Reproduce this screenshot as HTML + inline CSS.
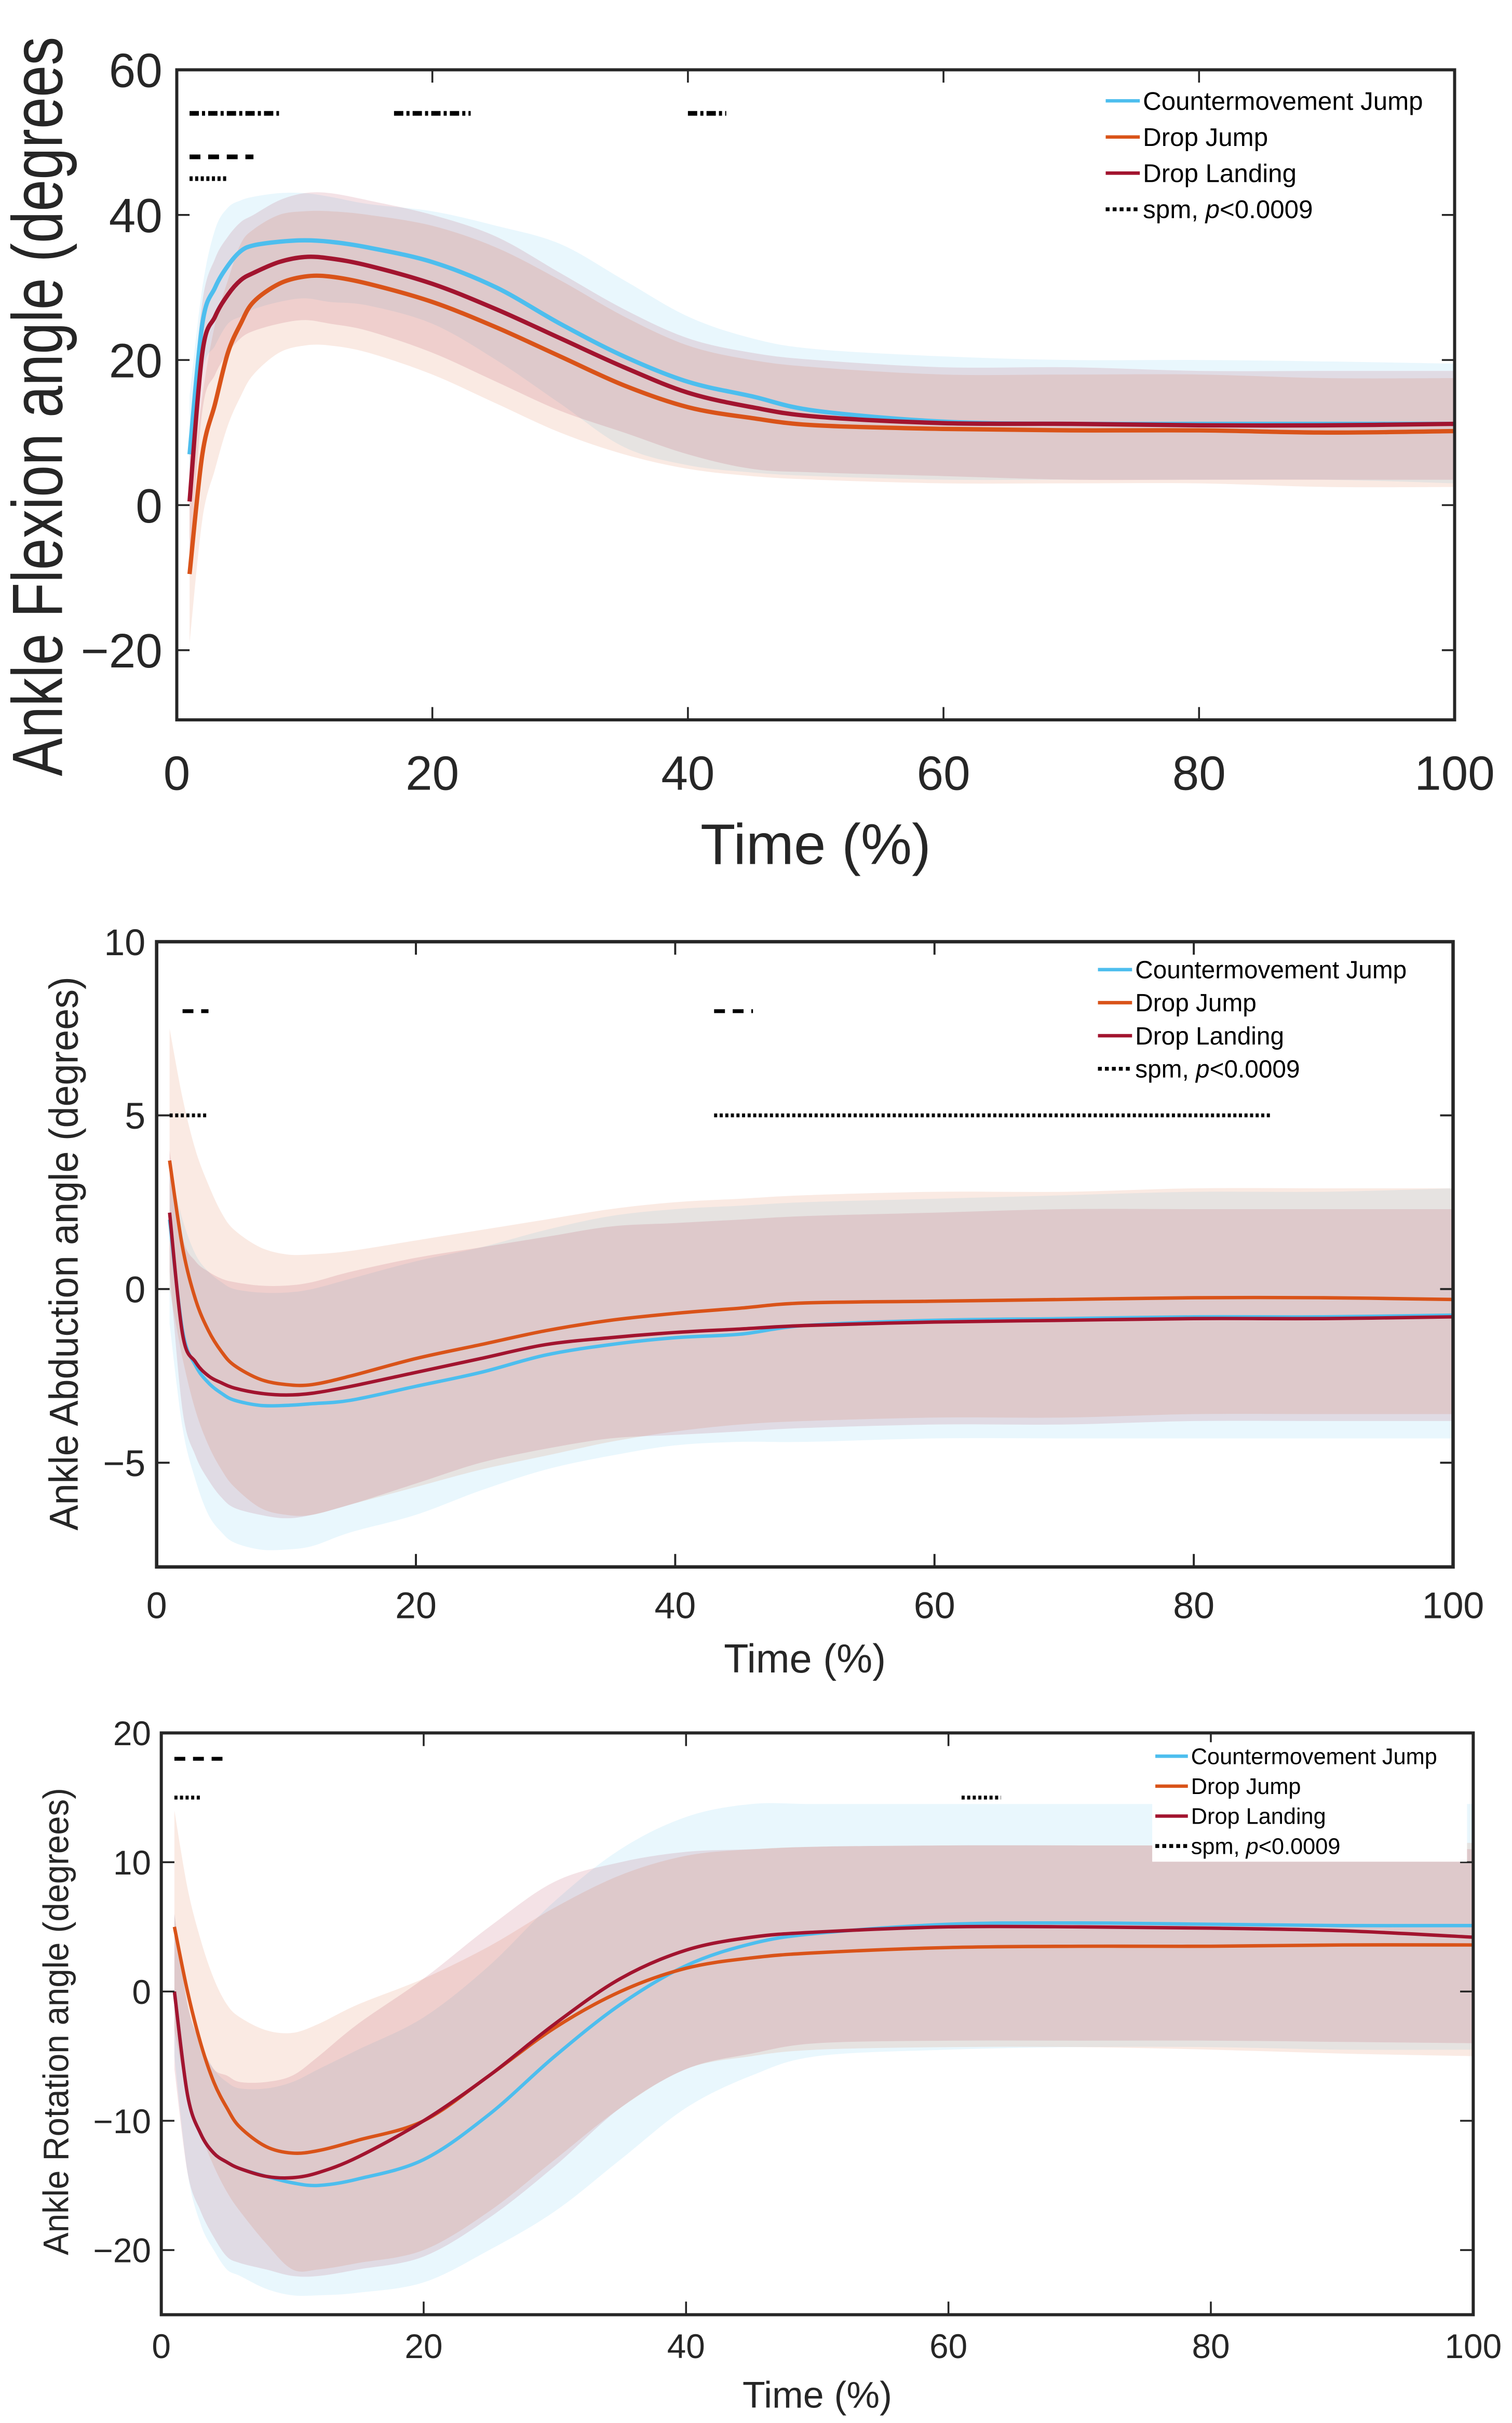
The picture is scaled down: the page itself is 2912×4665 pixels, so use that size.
<!DOCTYPE html>
<html><head><meta charset="utf-8"><style>
html,body{margin:0;padding:0;background:#fff;}
svg{display:block;font-family:"Liberation Sans",Arial,sans-serif;}
</style></head><body>
<svg id="fig" width="2912" height="4665" viewBox="0 0 975 1561.8" preserveAspectRatio="none" xmlns="http://www.w3.org/2000/svg"></svg>
<script>
const xs=[1,2,3,4,5,6,8,10,12,15,20,25,30,35,40,45,50,60,70,80,90,100];
// Panel 1: flexion
const p1CMJ=[7,25,30,33,35,35.8,36.3,36.5,36.3,35.5,33.5,30,25,20.5,17,15,13,11.5,11.2,11.2,11.2,11.2];
const p1DJ=[-9.5,7,14,21,25,28,30.5,31.5,31.5,30.5,28,24.5,20.5,16.5,13.5,12,11,10.5,10.3,10.3,10,10.2];
const p1DL=[0.5,21,26,29,31,32,33.5,34.2,34,33,30.5,27,23,19,15.5,13.5,12.2,11.3,11.2,11,11,11.2];
const p1CMJu=[15,30,38,41,42,42.5,43,43,42.5,41.5,40.5,38.5,36,31,26,23,21.5,20.5,20,20,19.8,19.5];
const p1CMJl=[0,18,22,25,26,27,28,28.5,28,27.5,25,20,14,8,5.5,4.5,4,3.5,3.5,3.5,3.5,3];
const p1DJu=[0,15,25,31,36,38,40,40.5,40.5,40,38.5,35.5,31,26,22,20,19,18,18,18,17.5,17.5];
const p1DJl=[-19,-2,5,11,15,18,21,22,22,21,18,14,10,7,5,4,3.5,3,3,3,2.5,2.5];
const p1DLu=[10,28,34,37,39,40,42,43,43,42,40,37,32,27,23,21,20,19,19,18.5,18.5,18.5];
const p1DLl=[-8,13,18,21,23,24,25,25.5,25,24,21,17,13,10,7,5,4.5,4,3.5,3.5,3.5,3.5];
const p1Ticks=[60,40,20,0,-20];
// Panel 2: abduction
const p2CMJ=[2,-1.2,-2.2,-2.7,-3.0,-3.2,-3.35,-3.35,-3.3,-3.2,-2.8,-2.4,-1.9,-1.6,-1.4,-1.3,-1.05,-0.9,-0.85,-0.8,-0.8,-0.75];
const p2DJ=[3.7,1.2,-0.3,-1.2,-1.8,-2.2,-2.6,-2.75,-2.75,-2.5,-2.0,-1.6,-1.2,-0.9,-0.7,-0.55,-0.4,-0.35,-0.3,-0.25,-0.25,-0.3];
const p2DL=[2.2,-1.3,-2.1,-2.5,-2.7,-2.85,-3.0,-3.05,-3.0,-2.8,-2.4,-2.0,-1.6,-1.4,-1.25,-1.15,-1.05,-0.95,-0.9,-0.85,-0.85,-0.8];
const p2CMJu=[3.5,2,1,0.5,0.2,0,-0.1,-0.1,0,0.3,0.8,1.2,1.7,2.1,2.3,2.4,2.5,2.6,2.7,2.8,2.8,2.9];
const p2CMJl=[-1,-4,-5.5,-6.5,-7,-7.3,-7.5,-7.5,-7.4,-7,-6.5,-5.8,-5.2,-4.8,-4.5,-4.4,-4.4,-4.3,-4.3,-4.3,-4.3,-4.3];
const p2DJu=[7.5,5.5,4,3,2.2,1.7,1.2,1,1,1.1,1.4,1.7,2,2.3,2.5,2.6,2.7,2.8,2.8,2.9,2.9,2.9];
const p2DJl=[0,-2,-3.5,-4.5,-5.2,-5.7,-6.3,-6.5,-6.5,-6.2,-5.7,-5.2,-4.8,-4.4,-4.1,-3.9,-3.8,-3.7,-3.7,-3.6,-3.6,-3.6];
const p2DLu=[4,1.5,0.8,0.5,0.3,0.2,0.1,0.1,0.2,0.5,0.9,1.2,1.5,1.8,1.9,2.0,2.1,2.2,2.3,2.3,2.3,2.3];
const p2DLl=[0.5,-3.5,-4.8,-5.5,-6,-6.3,-6.5,-6.6,-6.5,-6.2,-5.6,-5,-4.6,-4.3,-4.2,-4.1,-4,-3.9,-3.9,-3.8,-3.8,-3.8];
const p2Ticks=[10,5,0,-5];
// Panel 3: rotation
const p3CMJ=[0,-8,-11,-12.5,-13.2,-13.7,-14.3,-14.8,-15,-14.5,-13,-9.5,-5,-1,2,3.7,4.5,5.2,5.3,5.2,5.1,5.1];
const p3DJ=[5,0,-4,-7,-9,-10.5,-12,-12.5,-12.3,-11.5,-10,-6.5,-2.8,0,1.8,2.6,3.0,3.4,3.5,3.5,3.6,3.6];
const p3DL=[0,-8,-11,-12.5,-13.2,-13.7,-14.3,-14.4,-14,-12.8,-10,-6.5,-2.5,1,3.2,4.2,4.6,5,5,4.9,4.7,4.2];
const p3CMJu=[6,-1,-4,-6,-7,-7.5,-7.5,-7,-6,-4.5,-2,2,7,11,13.5,14.5,14.5,14.5,14.5,14.5,14.5,14.5];
const p3CMJl=[-5,-14,-18,-20,-21.5,-22,-23,-23.5,-23.5,-23.3,-22.5,-20,-17,-13,-9,-6.5,-5,-4.5,-4.3,-4.3,-4.5,-4.5];
const p3DJu=[14,8,4,1,-1,-2,-3,-3.2,-2.5,-1,1,3.5,6.5,9,10.5,11,11.2,11.3,11.3,11.3,11.3,11.5];
const p3DJl=[-3,-8,-11,-13.5,-15.5,-17,-19.5,-21.5,-21.5,-21,-20,-17,-13,-9,-6,-5,-4.5,-4.3,-4.3,-4.5,-4.8,-5];
const p3DLu=[6,-1,-4,-6,-6.5,-7,-7,-6.5,-5,-2.5,1,5,8.5,10,10.8,11,11.2,11.3,11.3,11.3,11.3,11];
const p3DLl=[-6,-14,-17,-19,-20.5,-21,-21.5,-22,-22,-21.5,-20.5,-17.5,-13.5,-9,-6,-4.8,-4,-3.8,-3.8,-3.8,-3.9,-4];
const p3Ticks=[20,10,0,-10,-20];
const xTicks=[0,20,40,60,80,100];
// significance bars: [y, x0, x1, style]
const p1Sig=[[54,1,8,'dd'],[54,17,23,'dd'],[54,40,43,'dd'],[48,1,6,'da'],[45,1,4,'do']];
const p2Sig=[[8,2,4,'da'],[8,43,46,'da'],[5,1,4,'do'],[5,43,86,'do']];
const p3Sig=[[18,1,5,'da'],[15,1,3,'do'],[15,61,64,'do']];
const legendLabels=['Countermovement Jump','Drop Jump','Drop Landing'];

const NS='http://www.w3.org/2000/svg';
const svg=document.getElementById('fig');
const C={cmj:'#4DBEEE',dj:'#D95319',dl:'#A2142F'};
function mk(tag,attrs,parent){const e=document.createElementNS(NS,tag);for(const k in attrs)e.setAttribute(k,attrs[k]);(parent||svg).appendChild(e);return e;}
function smooth(pts,move){
  let d=(move?'M':'L')+pts[0][0]+','+pts[0][1];
  for(let i=0;i<pts.length-1;i++){
    const p0=pts[Math.max(0,i-1)],p1=pts[i],p2=pts[i+1],p3=pts[Math.min(pts.length-1,i+2)];
    const c1=[p1[0]+(p2[0]-p0[0])/6,p1[1]+(p2[1]-p0[1])/6];
    const c2=[p2[0]-(p3[0]-p1[0])/6,p2[1]-(p3[1]-p1[1])/6];
    d+='C'+c1.join(',')+' '+c2.join(',')+' '+p2.join(',');
  }
  return d;
}

function panel(o){
  const g=mk('g',{});
  
  
  const X=v=>o.x0+(v-0)/100*(o.x1-o.x0);
  const Y=v=>o.y0+(o.ymax-v)/(o.ymax-o.ymin)*(o.y1-o.y0);
  const bands=[[o.cmjU,o.cmjL,C.cmj,'cmj-band'],[o.djU,o.djL,C.dj,'dj-band'],[o.dlU,o.dlL,C.dl,'dl-band']];
  bands.forEach(b=>{
    const up=xs.map((x,i)=>[X(x),Y(b[0][i])]);
    const lo=xs.map((x,i)=>[X(x),Y(b[1][i])]).reverse();
    const d=smooth(up,true)+smooth(lo,false)+'Z';
    const p=mk('path',{d:d,fill:b[2],'fill-opacity':0.12,stroke:'none'},g);
    
    
  });
  const lines=[[o.cmj,C.cmj,'cmj-line'],[o.dj,C.dj,'dj-line'],[o.dl,C.dl,'dl-line']];
  lines.forEach(l=>{
    const p=mk('path',{d:smooth(xs.map((x,i)=>[X(x),Y(l[0][i])]),true),fill:'none',stroke:l[1],'stroke-width':o.lw,'stroke-linejoin':'round'},g);
    
    
  });
  o.sig.forEach(s=>{
    const da={dd:'6,2,2,2',da:'7,5',do:'2,1.6'}[s[3]];
    const p=mk('line',{x1:X(s[1]),x2:X(s[2]),y1:Y(s[0]),y2:Y(s[0]),stroke:'#000','stroke-width':o.sw,'stroke-dasharray':da},g);
    
    
  });
  const r=mk('rect',{x:o.x0,y:o.y0,width:o.x1-o.x0,height:o.y1-o.y0,fill:'none',stroke:'#262626','stroke-width':o.bw},g);
  
  
  const tl=(o.x1-o.x0)*0.01;
  xTicks.forEach(t=>{
    mk('line',{x1:X(t),x2:X(t),y1:o.y1,y2:o.y1-tl,stroke:'#262626','stroke-width':o.bw*0.6},g);
    mk('line',{x1:X(t),x2:X(t),y1:o.y0,y2:o.y0+tl,stroke:'#262626','stroke-width':o.bw*0.6},g);
    const t2=mk('text',{x:X(t),y:o.y1+o.xtd,'font-size':o.fs,'text-anchor':'middle',fill:'#262626'},g);
    t2.textContent=t;
    
    
  });
  o.ticks.forEach(t=>{
    mk('line',{x1:o.x0,x2:o.x0+tl,y1:Y(t),y2:Y(t),stroke:'#262626','stroke-width':o.bw*0.6},g);
    mk('line',{x1:o.x1,x2:o.x1-tl,y1:Y(t),y2:Y(t),stroke:'#262626','stroke-width':o.bw*0.6},g);
    const t2=mk('text',{x:o.x0-o.fs*0.3,y:Y(t)+o.fs*0.36,'font-size':o.fs,'text-anchor':'end',fill:'#262626'},g);
    t2.textContent=(t<0?'\u2212'+(-t):t);
    
    
  });
  const xl=mk('text',{x:(o.x0+o.x1)/2,y:o.xly,'font-size':o.lfs,'text-anchor':'middle',fill:'#262626'},g);
  xl.textContent='Time (%)';
  
  
  const yl=mk('text',{x:0,y:0,'font-size':o.ylfs,'text-anchor':'middle',fill:'#262626',transform:'translate('+o.ylx+','+o.yly+') rotate(-90) scale('+o.ylsx+',1)'},g);
  yl.textContent=o.ylabel;
  
  
  const lg=mk('g',{},g);
  
  
  if(o.legBg) mk('rect',{x:o.legBg[0],y:o.legBg[1],width:o.legBg[2],height:o.legBg[3],fill:'#fff'},lg);
  const cols=[C.cmj,C.dj,C.dl];
  for(let i=0;i<4;i++){
    const yy=o.legY+i*o.legDy;
    if(i<3) mk('line',{x1:o.legX,x2:o.legX+o.legW,y1:yy,y2:yy,stroke:cols[i],'stroke-width':2.2},lg);
    else mk('line',{x1:o.legX,x2:o.legX+o.legW,y1:yy,y2:yy,stroke:'#000','stroke-width':2.5,'stroke-dasharray':'2.5,2'},lg);
    const t=mk('text',{x:o.legX+o.legW+2,y:yy+o.legFs*0.35,'font-size':o.legFs,fill:'#000'},lg);
    if(i<3) t.textContent=legendLabels[i];
    else t.innerHTML='spm, <tspan font-style="italic">p</tspan>&lt;0.0009';
    
    
  }
}

panel({name:'flexion-panel',x0:114,x1:938,y0:45,y1:464,ymin:-29.6,ymax:60,ticks:p1Ticks,
  cmj:p1CMJ,dj:p1DJ,dl:p1DL,cmjU:p1CMJu,cmjL:p1CMJl,djU:p1DJu,djL:p1DJl,dlU:p1DLu,dlL:p1DLl,
  sig:p1Sig,lw:2.8,sw:3,bw:2,fs:31,xtd:45,lfs:37,xly:557,ylabel:'Ankle Flexion angle (degrees',ylfs:46,ylx:40,yly:262,ylsx:0.8,
  legX:713,legY:65,legDy:23.3,legW:22,legFs:16.5});
panel({name:'abduction-panel',x0:101,x1:937,y0:607,y1:1010,ymin:-8,ymax:10,ticks:p2Ticks,
  cmj:p2CMJ,dj:p2DJ,dl:p2DL,cmjU:p2CMJu,cmjL:p2CMJl,djU:p2DJu,djL:p2DJl,dlU:p2DLu,dlL:p2DLl,
  sig:p2Sig,lw:2.2,sw:2.5,bw:2.2,fs:24,xtd:33,lfs:26,xly:1078,ylabel:'Ankle Abduction angle (degrees)',ylfs:26,ylx:50,yly:808,ylsx:0.95,
  legX:708,legY:625,legDy:21.3,legW:22,legFs:16});
panel({name:'rotation-panel',x0:104,x1:950,y0:1117,y1:1492,ymin:-25,ymax:20,ticks:p3Ticks,
  cmj:p3CMJ,dj:p3DJ,dl:p3DL,cmjU:p3CMJu,cmjL:p3CMJl,djU:p3DJu,djL:p3DJl,dlU:p3DLu,dlL:p3DLl,
  sig:p3Sig,lw:2.2,sw:2.5,bw:2,fs:22,xtd:28,lfs:24,xly:1552,ylabel:'Ankle Rotation angle (degrees)',ylfs:23,ylx:44,yly:1303,ylsx:0.95,
  legX:745,legY:1132,legDy:19.3,legW:21,legFs:14.5,legBg:[743,1123,203,77]});
</script>
</body></html>
